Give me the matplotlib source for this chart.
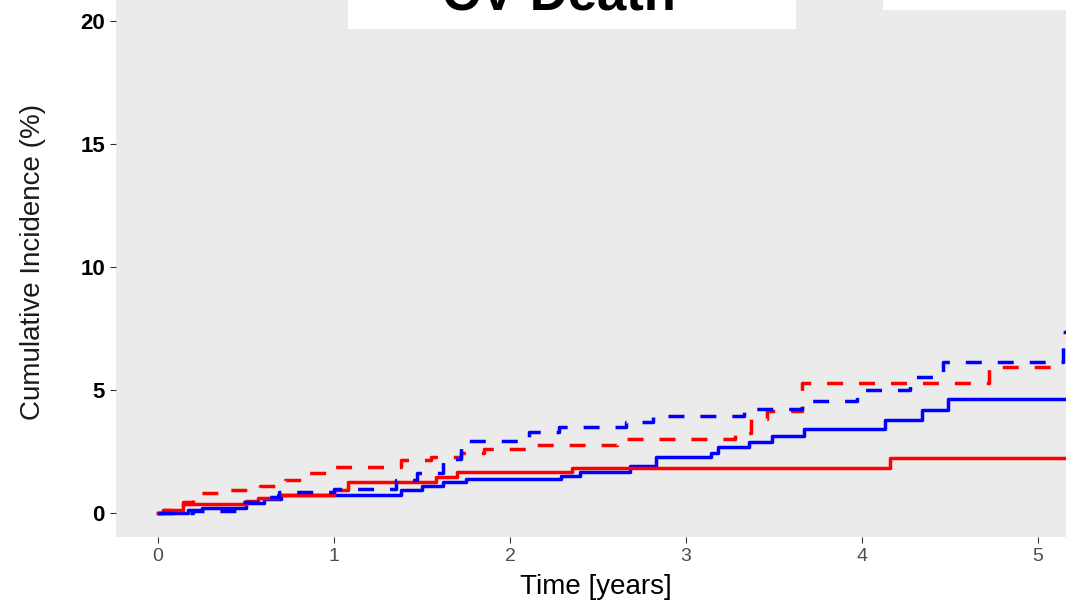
import matplotlib
matplotlib.use("Agg")
import matplotlib.pyplot as plt
from matplotlib.patches import Rectangle

# cumulative incidence step curves (time in years, incidence in %)
blue_solid_t = [0, 0.17, 0.25, 0.5, 0.6, 0.7, 1.38, 1.5, 1.62, 1.75, 2.29, 2.40, 2.68,
                2.83, 3.14, 3.18, 3.36, 3.49, 3.67, 4.13, 4.34, 4.49, 5.3]
blue_solid_v = [0, 0.12, 0.2, 0.4, 0.55, 0.73, 0.93, 1.1, 1.26, 1.38, 1.52, 1.68, 1.91,
                2.26, 2.45, 2.67, 2.9, 3.14, 3.41, 3.78, 4.19, 4.63, 4.63]

red_solid_t = [0, 0.03, 0.14, 0.5, 0.57, 0.68, 1.0, 1.08, 1.58, 1.7, 2.35, 4.16, 5.3]
red_solid_v = [0, 0.12, 0.37, 0.49, 0.6, 0.73, 0.93, 1.27, 1.48, 1.65, 1.84, 2.22, 2.22]

blue_dash_t = [0, 0.2, 0.48, 0.62, 0.69, 1.0, 1.35, 1.47, 1.62, 1.72, 2.11, 2.28, 2.66,
               2.81, 3.33, 3.66, 3.97, 4.27, 4.46, 5.14, 5.3]
blue_dash_v = [0, 0.1, 0.46, 0.66, 0.87, 0.96, 1.34, 1.64, 2.2, 2.94, 3.3, 3.5, 3.71,
               3.94, 4.21, 4.56, 4.99, 5.54, 6.15, 7.37, 7.37]

red_dash_t = [0, 0.03, 0.14, 0.2, 0.4, 0.58, 0.72, 0.86, 1.0, 1.38, 1.55, 1.72, 1.85,
              2.15, 2.61, 3.28, 3.37, 3.46, 3.66, 4.72, 5.3]
red_dash_v = [0, 0.12, 0.46, 0.83, 0.93, 1.1, 1.34, 1.61, 1.88, 2.15, 2.29, 2.45, 2.59,
              2.76, 3.0, 3.26, 3.81, 4.16, 5.3, 5.92, 5.92]

x_ticks = [0, 1, 2, 3, 4, 5]
y_ticks = [0, 5, 10, 15, 20]

W, H = 1066, 604
fig = plt.figure(figsize=(W / 100, H / 100), dpi=100)
ax = fig.add_axes([116 / W, 67 / H, 950 / W, 537 / H])
ax.set_facecolor("#EBEBEB")
for s in ax.spines.values():
    s.set_visible(False)

lw = 2.5
dash = (0, (4.6, 4.6))
ax.step(blue_solid_t, blue_solid_v, where="post", color="#0000FF", lw=lw)
ax.step(red_solid_t, red_solid_v, where="post", color="#FF0000", lw=lw)
ax.step(red_dash_t, red_dash_v, where="post", color="#FF0000", lw=lw, linestyle=dash,
        dash_capstyle="butt")
ax.step(blue_dash_t, blue_dash_v, where="post", color="#0000FF", lw=lw, linestyle=dash,
        dash_capstyle="butt")

ax.set_xlim(-0.2386, 5.159)
ax.set_ylim(-0.976, 20.85)
ax.set_xticks(x_ticks)
ax.set_yticks(y_ticks)
ax.set_xticklabels([str(t) for t in x_ticks], color="#4D4D4D", fontsize=14,
                   family="Liberation Sans")
ax.set_yticklabels([str(t) for t in y_ticks], color="black", fontsize=16,
                   fontweight="bold", family="Liberation Sans")
ax.tick_params(axis="both", length=4, width=0.8, color="#333333", pad=4)

fig.text(596 / W, 1 - 587 / H, "Time [years]", ha="center", va="center", fontsize=20,
         family="Liberation Sans")
fig.text(33 / W, 1 - 262 / H, "Cumulative Incidence (%)", rotation=90, ha="center",
         va="center", fontsize=20, color="#1A1A1A", family="Liberation Sans")

# white boxes at the top (title box and legend box, cut off by the frame)
fig.patches.append(Rectangle((348 / W, 1 - 29 / H), 448 / W, 29 / H,
                             transform=fig.transFigure, facecolor="white",
                             edgecolor="none", zorder=5))
fig.patches.append(Rectangle((883 / W, 1 - 10 / H), 183 / W, 10 / H,
                             transform=fig.transFigure, facecolor="white",
                             edgecolor="none", zorder=5))
fig.text(559 / W, 1 - 10 / H, "CV Death", ha="center", va="baseline", fontsize=38,
         fontweight="bold", family="Liberation Sans", zorder=6)

fig.savefig("out.png", dpi=100)
